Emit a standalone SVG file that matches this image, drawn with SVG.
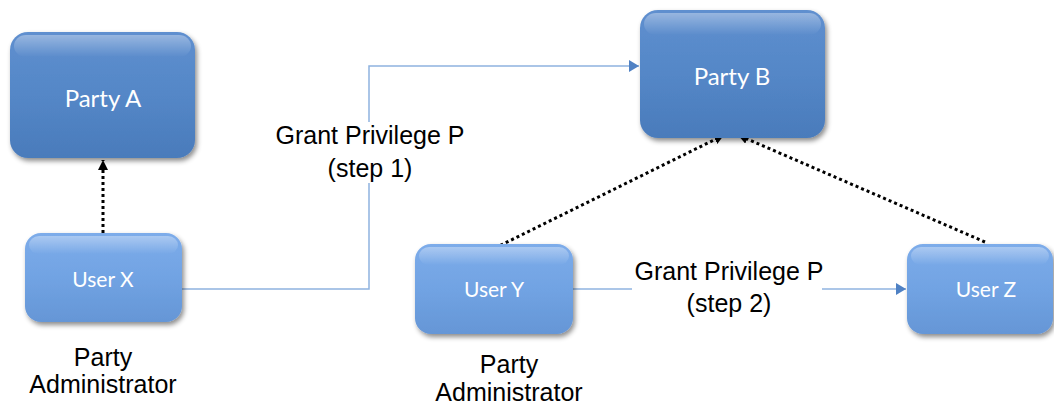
<svg xmlns="http://www.w3.org/2000/svg" width="1054" height="405" viewBox="0 0 1054 405">
<style>
.party{fill:url(#gParty);}
.user{fill:url(#gUser);}
.hl{fill:url(#gHl);}
.ntext{font-family:Lato,"Open Sans",sans-serif;fill:#ffffff;text-anchor:middle;}
.lbl{font-family:"Liberation Sans",Arial,sans-serif;font-size:25px;fill:#000000;text-anchor:middle;}
.dot{stroke:#000000;stroke-width:3;stroke-dasharray:3 3;fill:none;}
.blue{stroke:#8fb3e0;stroke-width:1.5;fill:none;}
</style>
<defs>
<linearGradient id="gParty" x1="0" y1="0" x2="0" y2="1">
<stop offset="0" stop-color="#5f8fcf"/>
<stop offset="0.5" stop-color="#5487c7"/>
<stop offset="1" stop-color="#4a7bbb"/>
</linearGradient>
<linearGradient id="gUser" x1="0" y1="0" x2="0" y2="1">
<stop offset="0" stop-color="#7dacea"/>
<stop offset="0.5" stop-color="#71a3e3"/>
<stop offset="1" stop-color="#6596d6"/>
</linearGradient>
<linearGradient id="gHl" x1="0" y1="0" x2="0" y2="1">
<stop offset="0" stop-color="#ffffff" stop-opacity="0.35"/>
<stop offset="1" stop-color="#ffffff" stop-opacity="0"/>
</linearGradient>
<filter id="sh" x="-10%" y="-10%" width="125%" height="130%">
<feDropShadow dx="2" dy="3" stdDeviation="2.5" flood-color="#000000" flood-opacity="0.45"/>
</filter>
<marker id="aBlack" viewBox="0 0 10 10" refX="10" refY="5" markerWidth="10" markerHeight="10" markerUnits="userSpaceOnUse" orient="auto">
<path d="M0,0 L10,5 L0,10 z" fill="#000000"/>
</marker>
<marker id="aBlue" viewBox="0 0 10 12" refX="10" refY="6" markerWidth="10" markerHeight="12" markerUnits="userSpaceOnUse" orient="auto">
<path d="M0,0 L10,6 L0,12 z" fill="#4f81c4"/>
</marker>
</defs>

<g id="connectors">
<path class="dot" d="M103,233 L103,160" marker-end="url(#aBlack)"/>
<path class="dot" d="M495,248 L724,135" marker-end="url(#aBlack)"/>
<path class="dot" d="M985,242 L738,135" marker-end="url(#aBlack)"/>
<path class="blue" d="M182,289 L369,289 L369,66 L639,66" marker-end="url(#aBlue)"/>
<path class="blue" d="M573,289 L906,289" marker-end="url(#aBlue)"/>
<g id="label-step1">
<rect x="273" y="122" width="190" height="61" fill="#ffffff"/>
<text class="lbl" x="370" y="144">Grant Privilege P</text>
<text class="lbl" x="370" y="177">(step 1)</text>
</g>
<g id="label-step2">
<rect x="632" y="257" width="190" height="61" fill="#ffffff"/>
<text class="lbl" x="729" y="280">Grant Privilege P</text>
<text class="lbl" x="729" y="312">(step 2)</text>
</g>
</g>

<g id="partyA">
<rect class="party" x="10" y="32" width="185" height="126" rx="18" filter="url(#sh)"/>
<rect class="hl" x="14" y="35" width="177" height="22" rx="12"/>
<text class="ntext" x="103" y="107" font-size="24">Party A</text>
</g>

<g id="partyB">
<rect class="party" x="640" y="10" width="185" height="128" rx="18" filter="url(#sh)"/>
<rect class="hl" x="644" y="13" width="177" height="22" rx="12"/>
<text class="ntext" x="732" y="85" font-size="24">Party B</text>
</g>

<g id="userX">
<rect class="user" x="25" y="233" width="157" height="89" rx="16" filter="url(#sh)"/>
<rect class="hl" x="29" y="236" width="149" height="18" rx="10"/>
<text class="ntext" x="103" y="287" font-size="21">User X</text>
</g>

<g id="userY">
<rect class="user" x="415" y="244" width="158" height="90" rx="16" filter="url(#sh)"/>
<rect class="hl" x="419" y="247" width="150" height="18" rx="10"/>
<text class="ntext" x="494" y="297" font-size="21">User Y</text>
</g>

<g id="userZ">
<rect class="user" x="907" y="244" width="146" height="90" rx="16" filter="url(#sh)"/>
<rect class="hl" x="911" y="247" width="138" height="18" rx="10"/>
<text class="ntext" x="986" y="297" font-size="21">User Z</text>
</g>

<g id="adminX">
<text class="lbl" x="103" y="366">Party</text>
<text class="lbl" x="103" y="393">Administrator</text>
</g>

<g id="adminY">
<text class="lbl" x="509" y="373">Party</text>
<text class="lbl" x="509" y="401">Administrator</text>
</g>
</svg>
